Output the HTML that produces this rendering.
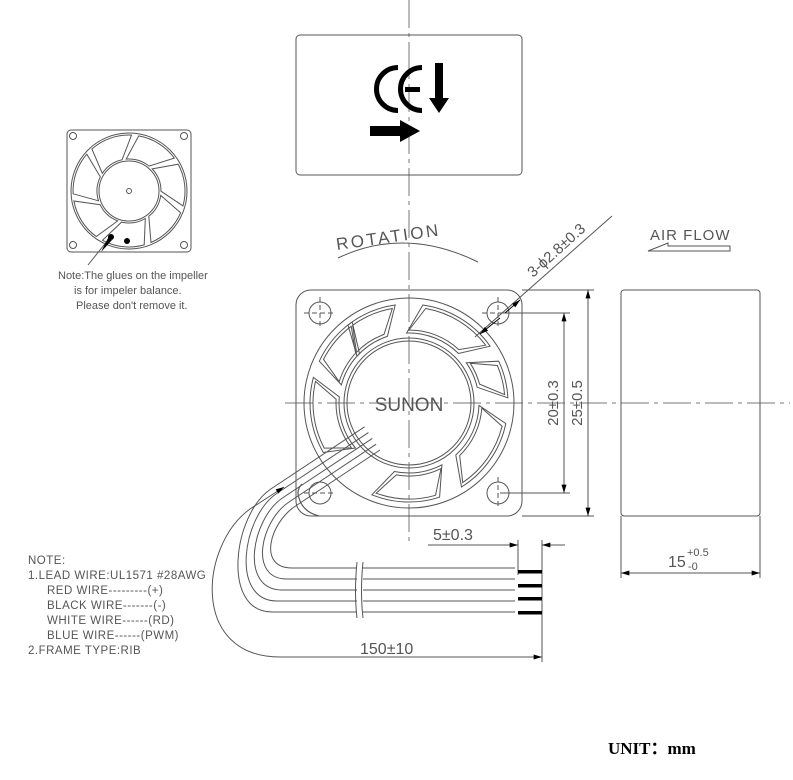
<!DOCTYPE html>
<html><head><meta charset="utf-8">
<style>
html,body{margin:0;padding:0;background:#fff;}
svg{display:block;}
text{font-family:"Liberation Sans",sans-serif;fill:#555;}
</style></head>
<body>
<svg id="s" width="793" height="780" viewBox="0 0 793 780" xmlns="http://www.w3.org/2000/svg">
<defs>
<marker id="ar" viewBox="0 0 10 6" refX="10" refY="3" markerWidth="12" markerHeight="5" orient="auto-start-reverse" markerUnits="userSpaceOnUse"><path d="M0,0 L10,3 L0,6 z" fill="#000"/></marker>
</defs>
<g fill="none" stroke="#555" stroke-width="1">
<line x1="409" y1="0" x2="409" y2="545" stroke-dasharray="28,5,4,5" stroke="#777"/>
<line x1="285" y1="403" x2="790" y2="403" stroke-dasharray="28,5,4,5" stroke="#777"/>

<rect x="296" y="35" width="226" height="140" rx="4"/>

<rect x="296" y="290" width="226" height="226" rx="15"/>
<circle cx="320" cy="313" r="11"/><circle cx="498" cy="313" r="11"/>
<circle cx="320" cy="493" r="11"/><circle cx="498" cy="493" r="11"/>
<line x1="304" y1="313" x2="336" y2="313" stroke-dasharray="5,3"/><line x1="320" y1="297" x2="320" y2="329" stroke-dasharray="5,3"/>
<line x1="482" y1="313" x2="514" y2="313" stroke-dasharray="5,3"/><line x1="498" y1="297" x2="498" y2="329" stroke-dasharray="5,3"/>
<line x1="304" y1="493" x2="336" y2="493" stroke-dasharray="5,3"/><line x1="498" y1="477" x2="498" y2="509" stroke-dasharray="5,3"/>
<circle cx="409" cy="403" r="105"/>
<circle cx="409" cy="403" r="62"/>
<circle cx="409" cy="403" r="65"/>
<g id="blades"></g>

<g id="wires"></g>
<rect x="357" y="560" width="6" height="60" fill="#fff" stroke="none"/>
<path d="M357,562 q-3,30 0,56 M363,562 q-3,30 0,56"/>
<path d="M302,484 q-6,6 -3,14 q4,14 20,18" stroke-width="1.2"/>

<path d="M284,487 L250,509 C200,545 190,657 280,657 L542,657" marker-start="url(#ar)" marker-end="url(#ar)"/>
<line x1="542" y1="540" x2="542" y2="662"/>
<line x1="518" y1="540" x2="518" y2="575"/>
<line x1="495" y1="545" x2="518" y2="545" marker-end="url(#ar)"/>
<line x1="565" y1="545" x2="542" y2="545" marker-end="url(#ar)"/>
<line x1="428" y1="545" x2="495" y2="545"/>

<line x1="500" y1="313" x2="570" y2="313"/><line x1="500" y1="493" x2="570" y2="493"/>
<line x1="564" y1="313" x2="564" y2="493" marker-start="url(#ar)" marker-end="url(#ar)"/>
<line x1="522" y1="290" x2="594" y2="290"/><line x1="522" y1="516" x2="594" y2="516"/>
<line x1="588" y1="290" x2="588" y2="516" marker-start="url(#ar)" marker-end="url(#ar)"/>

<rect x="621" y="290" width="139" height="226" rx="3"/>
<line x1="621" y1="516" x2="621" y2="578"/><line x1="760" y1="516" x2="760" y2="578"/>
<line x1="621" y1="573" x2="760" y2="573" marker-start="url(#ar)" marker-end="url(#ar)"/>

<line x1="612" y1="216" x2="475" y2="337"/>
<line x1="500" y1="318" x2="480" y2="334" stroke="#000" marker-end="url(#ar)"/>
<line x1="520" y1="300" x2="505" y2="313" stroke="#000" marker-start="url(#ar)"/>

<path d="M338,258 Q405,226 478,262"/>
<path d="M730,246 L730,251 L648,251 L668,243 L668,246 Z"/>

<rect x="67" y="130" width="124" height="122" rx="4"/>
<circle cx="73" cy="136" r="3.5"/><circle cx="184" cy="136" r="3.5"/>
<circle cx="73" cy="245" r="3.5"/><circle cx="184" cy="245" r="3.5"/>
<circle cx="129" cy="191" r="58"/>
<circle cx="129" cy="191" r="30"/>
<circle cx="129" cy="191" r="2.5"/>
<g id="sblades"></g>
<line x1="88" y1="265" x2="108" y2="240"/>
</g>
<circle cx="111" cy="237" r="3" fill="#000"/>
<circle cx="127" cy="241" r="3" fill="#000"/>
<path d="M101,252 L108,238 L112,240 Z" fill="#000"/>

<!-- CE marks -->
<g fill="none" stroke="#000" stroke-width="5">
<path d="M398,67.5 A21.5,21.5 0 0 0 398,110.5"/>
<path d="M422,67.5 A21.5,21.5 0 0 0 422,110.5"/>
</g>
<g fill="#000">
<rect x="405" y="87" width="15" height="5"/>
<rect x="435" y="63" width="8" height="36"/>
<path d="M429,98 L449,98 L439,113 Z"/>
<rect x="370" y="126" width="32" height="10"/>
<path d="M400,120 L420,131 L400,142 Z"/>
</g>
<g fill="#000">
<rect x="518" y="570" width="24" height="3.5"/><rect x="518" y="584" width="24" height="3.5"/>
<rect x="518" y="597" width="24" height="3.5"/><rect x="518" y="611" width="24" height="3.5"/>
</g>

<text x="409" y="411" font-size="19" text-anchor="middle">SUNON</text>
<text x="0" y="0" font-size="17" transform="translate(337,250) rotate(-8)" letter-spacing="2.5">ROTATION</text>
<text x="650" y="240" font-size="15" letter-spacing="1">AIR FLOW</text>
<text x="0" y="0" font-size="15" transform="translate(533,278) rotate(-42)">3-ϕ2.8±0.3</text>
<text x="0" y="0" font-size="15" text-anchor="middle" transform="translate(558,403) rotate(-90)">20±0.3</text>
<text x="0" y="0" font-size="15" text-anchor="middle" transform="translate(582,403) rotate(-90)">25±0.5</text>
<text x="433" y="540" font-size="16">5±0.3</text>
<text x="360" y="654" font-size="16">150±10</text>
<text x="668" y="567" font-size="16">15</text>
<text x="687" y="556" font-size="11">+0.5</text>
<text x="688" y="570" font-size="11">-0</text>
<g font-size="11">
<text x="58" y="279">Note:The glues on the impeller</text>
<text x="74" y="294">is for impeler balance.</text>
<text x="76" y="309">Please don't remove it.</text>
</g>
<g font-size="11.5" letter-spacing="0.5">
<text x="28" y="564">NOTE:</text>
<text x="28" y="579">1.LEAD WIRE:UL1571 #28AWG</text>
<text x="47" y="594">RED WIRE---------(+)</text>
<text x="47" y="609">BLACK WIRE-------(-)</text>
<text x="47" y="624">WHITE WIRE------(RD)</text>
<text x="47" y="639">BLUE WIRE------(PWM)</text>
<text x="28" y="654">2.FRAME TYPE:RIB</text>
</g>
<text x="608" y="754" font-size="17" font-weight="bold" style="font-family:'Liberation Serif',serif;fill:#000">UNIT：mm</text>

<script>
(function(){
var ns="http://www.w3.org/2000/svg";
function P(cx,cy,r,a){a=a*Math.PI/180;return [(cx+r*Math.cos(a)).toFixed(1),(cy+r*Math.sin(a)).toFixed(1)];}
function sector(g,cx,cy,r1,r2,a1,a2,off){
 var p1=P(cx,cy,r1,a1+off),p2=P(cx,cy,r2,a1),p3=P(cx,cy,r2,a2),p4=P(cx,cy,r1,a2+off);
 var d="M"+p1+" L"+p2+" A"+r2+","+r2+" 0 0 1 "+p3+" L"+p4+" A"+r1+","+r1+" 0 0 0 "+p1+" Z";
 var e=document.createElementNS(ns,"path");e.setAttribute("d",d);g.appendChild(e);
}
var b=document.getElementById("blades");
var W=[[-128,-98],[-82,-35],[-25,-3],[12,58],[72,112],[150,195],[205,235]];
W.forEach(function(w){sector(b,409,403,70,99,w[0],w[1],-10);sector(b,409,403,73,96,w[0]+2,w[1]-2,-10);});
var sb=document.getElementById("sblades");
for(var i=0;i<7;i++){var a=i*360/7-80;sector(sb,129,191,32,56,a,a+44,-15);}
var g=document.getElementById("wires");
for(var i=0;i<5;i++){
 var sx=380-3.85*i,sy=450-5.8*i,dx=295-6*i,dy=sy+0.663*(sx-dx);
 var hx=292-5*i,hy=568+11*i,l1=30+4*i,l2=35+4*i;
 var d="M"+sx+","+sy+" L"+dx+","+dy+" C"+(dx-0.83*l1)+","+(dy+0.55*l1)+" "+(hx-l2)+","+hy+" "+hx+","+hy+" L515,"+hy;
 var e=document.createElementNS(ns,"path");e.setAttribute("d",d);g.appendChild(e);
}
})();
</script>
</svg>
</body></html>
